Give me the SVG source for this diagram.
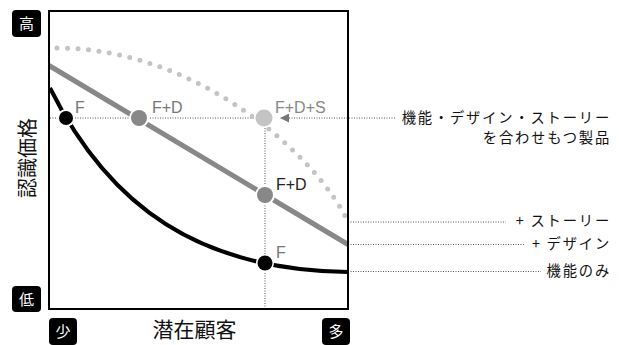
<svg xmlns="http://www.w3.org/2000/svg" width="619" height="345" viewBox="0 0 619 345">
<style>
.box{fill:#000}
.boxt{fill:#fff;font-family:"Noto Sans CJK JP",sans-serif;font-size:15px;text-anchor:middle}
.guide{fill:none;stroke:#555;stroke-width:1;stroke-dasharray:1 1.5}
.lbl{font-family:"Noto Sans CJK JP",sans-serif;font-size:14.3px;fill:#111;text-anchor:end;letter-spacing:1.8px}
.pt{font-family:"Liberation Sans",Arial,sans-serif;font-size:16px}
</style>
<defs>
<marker id="arr" viewBox="0 0 10 10" refX="10" refY="5" markerWidth="9" markerHeight="9" markerUnits="userSpaceOnUse" orient="auto">
<path d="M0,0 L10,5 L0,10 Z" fill="#777"/>
</marker>
</defs>
<rect width="619" height="345" fill="#fff"/>

<g id="axis-labels">
<rect class="box" x="12" y="10" width="29" height="27" rx="4"/>
<text class="boxt" x="26.5" y="29">高</text>
<rect class="box" x="12" y="286" width="29" height="26" rx="4"/>
<text class="boxt" x="26.5" y="305">低</text>
<rect class="box" x="49" y="318" width="28" height="27" rx="4"/>
<text class="boxt" x="63" y="337">少</text>
<rect class="box" x="322" y="318" width="28" height="27" rx="4"/>
<text class="boxt" x="336" y="337">多</text>
<text x="194.5" y="337" font-family="'Noto Sans CJK JP',sans-serif" font-size="21" text-anchor="middle" fill="#111">潜在顧客</text>
<text transform="translate(26,158) rotate(-90)" font-family="'Noto Sans CJK JP',sans-serif" font-size="20" text-anchor="middle" dominant-baseline="central" fill="#111">認識価格</text>
</g>

<g id="connectors">
<line class="guide" x1="50" y1="118" x2="258" y2="118"/>
<line class="guide" x1="395" y1="118" x2="280" y2="118" marker-end="url(#arr)"/>
<line class="guide" x1="265" y1="128" x2="265" y2="309"/>
<line class="guide" x1="348" y1="222" x2="506" y2="222"/>
<line class="guide" x1="348" y1="244.5" x2="525" y2="244.5"/>
<line class="guide" x1="348" y1="271.5" x2="541" y2="271.5"/>
</g>

<g id="curves">
<path d="M57,48 C200,48 320,160 348,222" fill="none" stroke="#c4c4c4" stroke-width="5" stroke-linecap="round" stroke-dasharray="0 10.5"/>
<line x1="49" y1="65.5" x2="348" y2="244.5" stroke="#888" stroke-width="5"/>
<path d="M50,88 C110,208 200,270 348,272" fill="none" stroke="#000" stroke-width="4"/>
</g>

<rect id="frame" x="49" y="11" width="299" height="298" fill="none" stroke="#000" stroke-width="2"/>

<g id="node-F1">
<circle cx="66" cy="118" r="9" fill="#fff"/>
<circle cx="66" cy="118" r="7" fill="#000"/>
<text class="pt" x="75" y="113" fill="#777">F</text>
</g>
<g id="node-FD1">
<circle cx="139" cy="118" r="10" fill="#fff"/>
<circle cx="139" cy="118" r="8" fill="#888"/>
<text class="pt" x="152" y="113" fill="#777">F+D</text>
</g>
<g id="node-FDS">
<circle cx="264" cy="118" r="10" fill="#fff"/>
<circle cx="264" cy="118" r="8.5" fill="#c4c4c4"/>
<text class="pt" x="275" y="113" fill="#888">F+D+S</text>
</g>
<g id="node-FD2">
<circle cx="265" cy="195" r="10" fill="#fff"/>
<circle cx="265" cy="195" r="8" fill="#888"/>
<text class="pt" x="276" y="190" fill="#222">F+D</text>
</g>
<g id="node-F2">
<circle cx="265" cy="263" r="9" fill="#fff"/>
<circle cx="265" cy="263" r="7.5" fill="#000"/>
<text class="pt" x="276" y="258" fill="#777">F</text>
</g>

<g id="legend">
<text class="lbl" x="611" y="123">機能・デザイン・ストーリー</text>
<text class="lbl" x="611" y="143">を合わせもつ製品</text>
<text class="lbl" x="611" y="226">+ ストーリー</text>
<text class="lbl" x="611" y="249">+ デザイン</text>
<text class="lbl" x="611" y="276">機能のみ</text>
</g>
</svg>
